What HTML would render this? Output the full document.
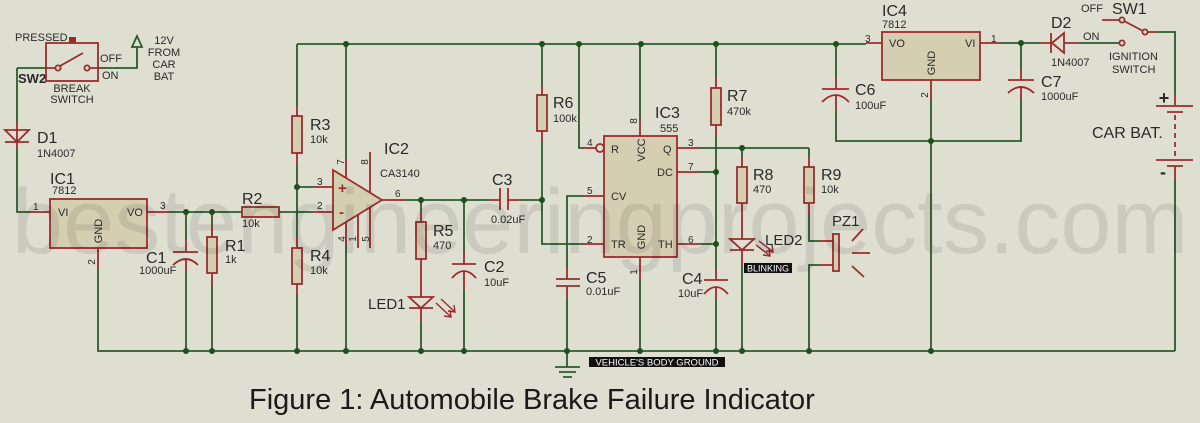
<!DOCTYPE html>
<html><head><meta charset="utf-8"><style>
html,body{margin:0;padding:0;background:#dfdfd1;}
svg{display:block;}
text{font-family:"Liberation Sans",Arial,sans-serif;fill:#2a2a2a;}
.w{stroke:#2b5b2b;stroke-width:1.8;fill:none;}
.r{stroke:#9b2c2c;stroke-width:1.8;fill:none;}
.b{stroke:#9b2c2c;stroke-width:1.8;fill:#d5cfb2;}
.j{fill:#1f4f1f;}
.big{font-size:16px;}
.sm{font-size:11px;}
.pn{font-size:10px;}
</style></head><body>
<svg width="1200" height="423" viewBox="0 0 1200 423" xmlns="http://www.w3.org/2000/svg">
<rect width="1200" height="423" fill="#dfdfd1"/>

<!-- ===== SW2 ===== -->
<path class="w" d="M17,68 H46 M98,68 H137 V47 M17,68 V122 M17,150 V212 H30"/>
<path class="r" d="M46,68 H56 M89,68 H98 M17,122 V150"/>
<rect x="46" y="43" width="52" height="38" class="r"/>
<rect x="69" y="37" width="7" height="6" fill="#9b2c2c"/>
<circle cx="58" cy="68" r="2.6" class="r" fill="#dfdfd1"/>
<circle cx="87" cy="68" r="2.6" class="r" fill="#dfdfd1"/>
<line x1="60" y1="66" x2="83" y2="53" class="r"/>
<polygon points="137,36 132,47 142,47" class="w"/>
<text x="15" y="41" class="sm">PRESSED</text>
<text x="100" y="62" class="sm">OFF</text>
<text x="102" y="79" class="sm">ON</text>
<text x="18" y="83" style="font-size:13px;font-weight:bold">SW2</text>
<text x="72" y="92" class="sm" text-anchor="middle">BREAK</text>
<text x="72" y="103" class="sm" text-anchor="middle">SWITCH</text>
<text x="164" y="44" class="sm" text-anchor="middle">12V</text>
<text x="164" y="56" class="sm" text-anchor="middle">FROM</text>
<text x="164" y="68" class="sm" text-anchor="middle">CAR</text>
<text x="164" y="80" class="sm" text-anchor="middle">BAT</text>

<!-- D1 -->
<polygon points="5,130 29,130 17,142" class="r" fill="#dfdfd1"/>
<line x1="5" y1="142" x2="29" y2="142" class="r"/>
<text x="37" y="143" class="big">D1</text>
<text x="37" y="157" class="sm">1N4007</text>

<!-- IC1 -->
<text x="50" y="184" class="big">IC1</text>
<text x="52" y="194" class="sm">7812</text>
<path class="r" d="M30,212 H50 M147,212 H170 M98,248 V270"/>
<rect x="50" y="199" width="97" height="49" class="b"/>
<text x="58" y="216" class="sm">VI</text>
<text x="127" y="216" class="sm">VO</text>
<text transform="translate(102,231) rotate(-90)" class="sm" text-anchor="middle">GND</text>
<text x="33" y="210" class="pn">1</text>
<text x="160" y="209" class="pn">3</text>
<text transform="translate(95,262) rotate(-90)" class="pn" text-anchor="middle">2</text>
<path class="w" d="M170,212 H242 M98,270 V351 H1175"/>

<!-- C1 -->
<path class="w" d="M186,212 V240 M186,272 V351"/>
<path class="r" d="M186,240 V252 M173,252 H198 M173,265 Q186,253 198,265 M186,259 V272"/>
<text x="146" y="263" class="big">C1</text>
<text x="139" y="274" class="sm">1000uF</text>

<!-- R1 -->
<path class="w" d="M212,212 V225 M212,285 V351"/>
<path class="r" d="M212,225 V237 M212,273 V285"/>
<rect x="207" y="237" width="10" height="36" class="b"/>
<text x="225" y="251" class="big">R1</text>
<text x="225" y="263" class="sm">1k</text>

<!-- R2 -->
<rect x="242" y="207" width="37" height="10" class="b"/>
<path class="w" d="M279,212 H313"/>
<path class="r" d="M313,212 H333 M313,187 H333"/>
<text x="242" y="204" class="big">R2</text>
<text x="242" y="227" class="sm">10k</text>

<!-- R3 R4 -->
<path class="w" d="M297,44 V105 M297,165 V238 M297,295 V351 M297,187 H313"/>
<path class="r" d="M297,105 V116 M297,153 V165 M297,238 V248 M297,284 V295"/>
<rect x="292" y="116" width="10" height="37" class="b"/>
<rect x="292" y="248" width="10" height="36" class="b"/>
<text x="310" y="130" class="big">R3</text>
<text x="310" y="143" class="sm">10k</text>
<text x="310" y="261" class="big">R4</text>
<text x="310" y="274" class="sm">10k</text>

<!-- top rail -->
<path class="w" d="M297,44 H866"/>

<!-- IC2 opamp -->
<path class="w" d="M346,44 V160 M346,245 V351"/>
<path class="r" d="M346,160 V178 M370,152 V193 M346,222 V245 M358,215 V248 M370,207 V248 M382,200 H405"/>
<polygon points="333,170 382,200 333,230" class="b"/>
<text x="338" y="193" style="font-size:15px;font-weight:bold;fill:#9b2c2c">+</text>
<text x="339" y="217" style="font-size:15px;font-weight:bold;fill:#9b2c2c">-</text>
<text x="317" y="185" class="pn">3</text>
<text x="317" y="209" class="pn">2</text>
<text x="395" y="197" class="pn">6</text>
<text transform="translate(344,162) rotate(-90)" class="pn" text-anchor="middle">7</text>
<text transform="translate(368,162) rotate(-90)" class="pn" text-anchor="middle">8</text>
<text transform="translate(345,239) rotate(-90)" class="pn" text-anchor="middle">4</text>
<text transform="translate(356,239) rotate(-90)" class="pn" text-anchor="middle">1</text>
<text transform="translate(369,239) rotate(-90)" class="pn" text-anchor="middle">5</text>
<text x="384" y="154" class="big">IC2</text>
<text x="380" y="177" class="sm">CA3140</text>

<!-- output line, C3 -->
<path class="w" d="M405,200 H490 M520,200 H542"/>
<path class="r" d="M490,200 H500 M500,188 V210 M508,188 V210 M508,200 H520"/>
<text x="492" y="185" class="big">C3</text>
<text x="491" y="223" class="sm">0.02uF</text>

<!-- R5 LED1 -->
<path class="w" d="M421,200 V212 M421,322 V351"/>
<path class="r" d="M421,212 V222 M421,259 V297 M421,308 V322"/>
<rect x="416" y="222" width="10" height="37" class="b"/>
<polygon points="409,297 433,297 421,308" class="r" fill="#dfdfd1"/>
<line x1="409" y1="308" x2="433" y2="308" class="r"/>
<path class="r" d="M436,303 L450,316 M441,299 L454,311 M444,316 L451,317 L450,310 M448,311 L455,312 L454,305" style="stroke-width:1.4"/>
<text x="433" y="236" class="big">R5</text>
<text x="433" y="249" class="sm">470</text>
<text x="368" y="309" style="font-size:15px">LED1</text>

<!-- C2 -->
<path class="w" d="M464,200 V252 M464,290 V351"/>
<path class="r" d="M464,252 V264 M452,264 H476 M452,278 Q464,264 476,278 M464,271 V290"/>
<text x="484" y="272" class="big">C2</text>
<text x="484" y="286" class="sm">10uF</text>

<!-- R6 -->
<path class="w" d="M542,44 V85 M542,142 V244 H584"/>
<path class="r" d="M542,85 V95 M542,131 V142 M584,244 H604"/>
<rect x="537" y="95" width="10" height="36" class="b"/>
<text x="553" y="108" class="big">R6</text>
<text x="553" y="122" class="sm">100k</text>

<!-- IC3 555 -->
<path class="w" d="M579,44 V148 H584 M640,44 V120 M640,280 V351"/>
<path class="r" d="M584,148 H596 M640,120 V136 M640,257 V280 M677,148 H700 M677,172 H700 M677,244 H700 M604,196 H584"/>
<circle cx="600" cy="148" r="4" class="r" fill="#dfdfd1"/>
<rect x="604" y="136" width="73" height="121" class="b"/>
<text x="611" y="153" class="sm">R</text>
<text x="663" y="153" class="sm">Q</text>
<text x="657" y="176" class="sm">DC</text>
<text x="611" y="200" class="sm">CV</text>
<text x="611" y="248" class="sm">TR</text>
<text x="658" y="248" class="sm">TH</text>
<text transform="translate(645,150) rotate(-90)" class="sm" text-anchor="middle">VCC</text>
<text transform="translate(645,237) rotate(-90)" class="sm" text-anchor="middle">GND</text>
<text x="587" y="146" class="pn">4</text>
<text x="587" y="194" class="pn">5</text>
<text x="587" y="243" class="pn">2</text>
<text x="688" y="146" class="pn">3</text>
<text x="688" y="170" class="pn">7</text>
<text x="688" y="243" class="pn">6</text>
<text transform="translate(637,121) rotate(-90)" class="pn" text-anchor="middle">8</text>
<text transform="translate(637,272) rotate(-90)" class="pn" text-anchor="middle">1</text>
<text x="655" y="118" class="big">IC3</text>
<text x="660" y="132" class="sm">555</text>

<!-- C5 + ground -->
<path class="w" d="M584,196 H567 V268 M567,298 V367"/>
<path class="r" d="M567,268 V279 M556,279 H580 M556,286 H580 M567,286 V298"/>
<path class="w" d="M555,367 H580 M559,372 H576 M563,377 H572"/>
<text x="586" y="283" class="big">C5</text>
<text x="586" y="295" class="sm">0.01uF</text>

<!-- R7, C4 -->
<path class="w" d="M716,44 V78 M716,135 V270 M716,300 V351 M700,172 H716 M700,244 H716"/>
<path class="r" d="M716,78 V88 M716,125 V135 M716,270 V280 M704,280 H728 M704,294 Q716,280 728,294 M716,287 V300"/>
<rect x="711" y="88" width="10" height="37" class="b"/>
<text x="727" y="101" class="big">R7</text>
<text x="727" y="115" class="sm">470k</text>
<text x="682" y="284" class="big">C4</text>
<text x="678" y="297" class="sm">10uF</text>

<!-- Q line, R8, LED2 -->
<path class="w" d="M700,148 H809 M742,148 V157 M742,265 V351"/>
<path class="r" d="M742,157 V167 M742,203 V239 M742,250 V265"/>
<rect x="737" y="167" width="10" height="36" class="b"/>
<polygon points="730,239 754,239 742,250" class="r" fill="#dfdfd1"/>
<line x1="730" y1="250" x2="754" y2="250" class="r"/>
<path class="r" d="M756,245 L769,255 M759,241 L772,251 M763,255 L770,256 L769,249 M766,251 L773,252 L772,245" style="stroke-width:1.4"/>
<text x="753" y="180" class="big">R8</text>
<text x="753" y="193" class="sm">470</text>
<text x="765" y="245" style="font-size:15px">LED2</text>
<rect x="744" y="263" width="48" height="10" fill="#111"/>
<text x="768" y="271.5" text-anchor="middle" style="font-size:9px;fill:#fff">BLINKING</text>

<!-- R9, PZ1 -->
<path class="w" d="M809,148 V157 M809,215 V241 H820 M820,265 H809 V351"/>
<path class="r" d="M809,157 V167 M809,203 V215 M820,241 H833 M820,265 H833"/>
<rect x="804" y="167" width="10" height="36" class="b"/>
<rect x="833" y="234" width="6" height="37" class="b"/>
<path class="r" d="M852,241 L863,229 M852,253 H870 M852,266 L864,277"/>
<text x="821" y="180" class="big">R9</text>
<text x="821" y="193" class="sm">10k</text>
<text x="832" y="226" style="font-size:15px">PZ1</text>

<!-- Vehicle ground label -->
<rect x="589" y="357" width="136" height="10" fill="#111"/>
<text x="657" y="365.5" text-anchor="middle" style="font-size:9.5px;fill:#fff">VEHICLE'S BODY GROUND</text>

<!-- IC4 -->
<path class="r" d="M866,43 H882 M980,43 H1000 M931,80 V100"/>
<rect x="882" y="32" width="98" height="48" class="b"/>
<text x="889" y="47" class="sm">VO</text>
<text x="965" y="47" class="sm">VI</text>
<text transform="translate(935,63) rotate(-90)" class="sm" text-anchor="middle">GND</text>
<text x="865" y="42" class="pn">3</text>
<text x="991" y="42" class="pn">1</text>
<text transform="translate(928,95) rotate(-90)" class="pn" text-anchor="middle">2</text>
<text x="882" y="16" class="big">IC4</text>
<text x="882" y="28" class="sm">7812</text>
<path class="w" d="M931,100 V351"/>

<!-- C6 -->
<path class="w" d="M836,44 V78 M836,112 V141 H1021 V100 M1021,70 V43 M1000,43 H1040"/>
<path class="r" d="M836,78 V89 M822,89 H849 M822,102 Q836,88 849,102 M836,95 V112"/>
<text x="855" y="95" class="big">C6</text>
<text x="855" y="109" class="sm">100uF</text>

<!-- C7 -->
<path class="r" d="M1021,70 V80 M1008,80 H1034 M1008,93 Q1021,81 1034,93 M1021,87 V100"/>
<text x="1041" y="87" class="big">C7</text>
<text x="1041" y="100" class="sm">1000uF</text>

<!-- D2 -->
<path class="r" d="M1040,43 H1052 M1064,43 H1080"/>
<polygon points="1052,43 1064,33 1064,53" class="r" fill="#dfdfd1"/>
<line x1="1051" y1="33" x2="1051" y2="53" class="r"/>
<path class="w" d="M1080,43 H1119"/>
<circle cx="1122" cy="43" r="2.6" class="r" fill="#dfdfd1"/>
<text x="1051" y="28" class="big">D2</text>
<text x="1051" y="66" class="sm">1N4007</text>

<!-- SW1 -->
<path class="r" d="M1102,20 H1119 M1124,21 L1143,31 M1148,32 H1158"/>
<circle cx="1122" cy="20" r="2.6" class="r" fill="#dfdfd1"/>
<circle cx="1145" cy="32" r="2.6" class="r" fill="#dfdfd1"/>
<text x="1083" y="40" class="sm">ON</text>
<text x="1081" y="12" class="sm">OFF</text>
<text x="1112" y="14" class="big">SW1</text>
<text x="1109" y="60" class="sm">IGNITION</text>
<text x="1112" y="73" class="sm">SWITCH</text>

<!-- Battery -->
<path class="w" d="M1158,32 H1175 V95 M1175,180 V351"/>
<path class="r" d="M1175,95 V106 M1156,106 H1193 M1167,112 H1183 M1156,160 H1193 M1167,166 H1183 M1175,166 V180"/>
<line x1="1175" y1="115" x2="1175" y2="158" class="r" stroke-dasharray="5,4"/>
<text x="1164" y="104" text-anchor="middle" style="font-size:18px;font-weight:bold">+</text>
<text x="1163" y="178" text-anchor="middle" style="font-size:18px;font-weight:bold">-</text>
<text x="1092" y="138" class="big">CAR BAT.</text>

<!-- junctions -->
<g class="j">
<circle cx="186" cy="212" r="3"/><circle cx="212" cy="212" r="3"/>
<circle cx="297" cy="187" r="3"/>
<circle cx="346" cy="44" r="3"/><circle cx="542" cy="44" r="3"/><circle cx="579" cy="44" r="3"/>
<circle cx="641" cy="44" r="3"/><circle cx="716" cy="44" r="3"/><circle cx="836" cy="44" r="3"/>
<circle cx="421" cy="200" r="3"/><circle cx="464" cy="200" r="3"/><circle cx="542" cy="200" r="3"/>
<circle cx="742" cy="148" r="3"/><circle cx="716" cy="172" r="3"/><circle cx="716" cy="244" r="3"/>
<circle cx="931" cy="141" r="3"/><circle cx="1021" cy="43" r="3"/>
<circle cx="186" cy="351" r="3"/><circle cx="212" cy="351" r="3"/><circle cx="297" cy="351" r="3"/>
<circle cx="346" cy="351" r="3"/><circle cx="421" cy="351" r="3"/><circle cx="464" cy="351" r="3"/>
<circle cx="567" cy="351" r="3"/><circle cx="640" cy="351" r="3"/><circle cx="716" cy="351" r="3"/>
<circle cx="742" cy="351" r="3"/><circle cx="809" cy="351" r="3"/><circle cx="931" cy="351" r="3"/>
</g>

<!-- watermark -->
<text x="12" y="253" style="font-size:92px;fill:#000;fill-opacity:0.09">bestengineeringprojects.com</text>

<!-- title -->
<text x="249" y="409" style="font-size:29px;fill:#1a1a1a">Figure 1: Automobile Brake Failure Indicator</text>
</svg>
</body></html>
